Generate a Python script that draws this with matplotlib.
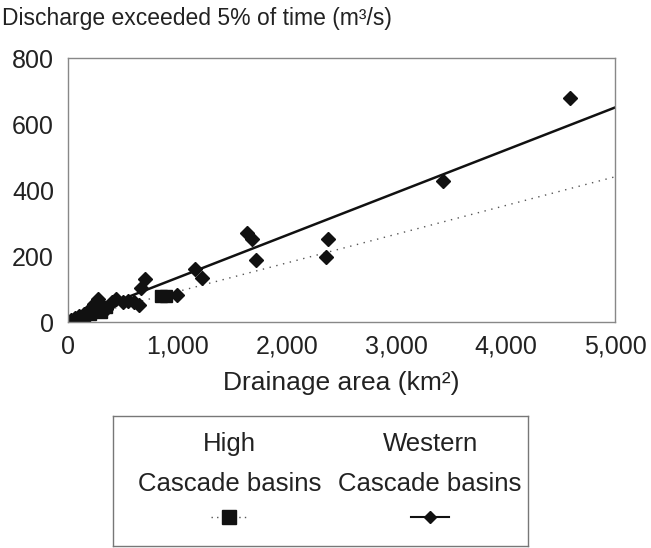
import matplotlib.pyplot as plt
from matplotlib.lines import Line2D

plt.rcParams['font.family'] = ['Liberation Sans', 'DejaVu Sans']

# Western Cascade basins (diamonds)
west_area = [30, 60, 100, 150, 200, 240, 270, 300, 350, 400, 440, 500, 550, 600, 650,
             670, 700, 1000, 1165, 1225, 1640, 1680, 1715, 2360, 2380, 3430, 4590]
west_q = [5, 12, 18, 25, 40, 55, 70, 50, 40, 60, 70, 60, 65, 60, 52,
          103, 130, 82, 160, 133, 271, 252, 188, 198, 252, 428, 678]
# High Cascade basins (squares)
high_area = [100, 150, 200, 250, 300, 350, 850, 900]
high_q = [10, 15, 25, 35, 30, 45, 78, 80]

# fitted lines, endpoints
west_fit_x = [0, 5000]
west_fit_y = [5, 650]
high_fit_x = [0, 5000]
high_fit_y = [5, 440]

fig = plt.figure(figsize=(6.51, 5.48), dpi=100)
ax = fig.add_axes([68/651, 1-322/548, (615-68)/651, (322-58)/548])

ax.plot(high_fit_x, high_fit_y, linestyle=(0, (1, 4)), color='#555555', linewidth=1.0)
ax.plot(west_fit_x, west_fit_y, linestyle='-', color='#111111', linewidth=1.8)
ax.plot(high_area, high_q, linestyle='none', marker='s', markersize=9, color='#111111')
ax.plot(west_area, west_q, linestyle='none', marker='D', markersize=7.5, color='#111111')

ax.set_xlim(0, 5000)
ax.set_ylim(0, 800)
ax.set_xticks([0, 1000, 2000, 3000, 4000, 5000])
ax.set_xticklabels(['0', '1,000', '2,000', '3,000', '4,000', '5,000'])
ax.set_yticks([0, 200, 400, 600, 800])
ax.tick_params(labelsize=18, length=0, colors='#222222')
ax.tick_params(axis='x', pad=9)
ax.tick_params(axis='y', pad=10)
for s in ax.spines.values():
    s.set_color('#888888')
    s.set_linewidth(1.0)
ax.set_xlabel('Drainage area (km²)', fontsize=19, color='#222222', labelpad=9)

fig.text(2/651, 1-19/548, 'Discharge exceeded 5% of time (m³/s)', fontsize=16.5,
         color='#222222', va='center', ha='left')

# custom legend box
lax = fig.add_axes([113/651, 2/548, 415/651, 130/548])
lax.set_xlim(0, 1)
lax.set_ylim(0, 1)
lax.set_xticks([])
lax.set_yticks([])
for s in lax.spines.values():
    s.set_color('#777777')
    s.set_linewidth(1.0)
c1, c2 = 0.28, 0.764
for c, top in [(c1, 'High'), (c2, 'Western')]:
    lax.text(c, 0.785, top, ha='center', va='center', fontsize=18.5, color='#222222')
    lax.text(c, 0.475, 'Cascade basins', ha='center', va='center', fontsize=18.5,
             color='#222222')
lax.add_line(Line2D([c1-0.045, c1+0.045], [0.22, 0.22], linestyle=(0, (1, 3)),
                    color='#555555', linewidth=1.0))
lax.plot([c1], [0.22], marker='s', markersize=10.5, color='#111111')
lax.add_line(Line2D([c2-0.046, c2+0.046], [0.22, 0.22], color='#111111', linewidth=1.5))
lax.plot([c2], [0.22], marker='D', markersize=6.5, color='#111111')

fig.savefig('out.png', dpi=100)
